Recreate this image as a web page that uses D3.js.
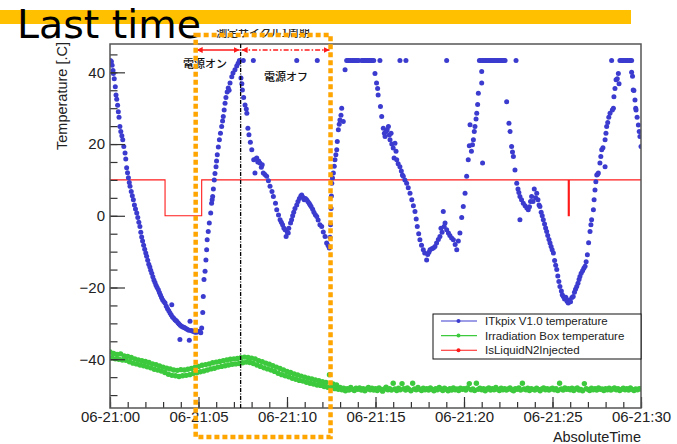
<!DOCTYPE html>
<html>
<head>
<meta charset="utf-8">
<script src="https://cdn.jsdelivr.net/npm/d3@7"></script>
<style>
  body { margin: 0; background: #fff; }
  svg { display: block; }
</style>
</head>
<body>
<svg id="chart" width="677" height="444"></svg>
<script>
// ---- data ----------------------------------------------------------------
// time in minutes after 06-21:00, temperature in degrees C
const itkpixPoints = [
  [0.02,43.3],[0.08,43.0],[0.12,42.0],[0.17,40.5],[0.19,39.7],[0.24,38.2],[0.30,36.0],[0.34,33.7],[0.38,32.5],[0.43,30.8],
  [0.47,29.0],[0.51,27.5],[0.56,24.9],[0.61,23.5],[0.67,22.3],[0.72,21.2],[0.78,19.3],[0.85,17.5],[0.89,15.8],[0.94,13.4],
  [0.99,12.0],[1.04,10.6],[1.09,9.3],[1.13,8.2],[1.20,6.8],[1.26,5.6],[1.32,4.5],[1.38,3.0],[1.44,1.9],[1.51,0.8],
  [1.57,-0.5],[1.63,-1.8],[1.69,-3.0],[1.74,-4.6],[1.79,-5.9],[1.84,-7.0],[1.90,-8.2],[1.96,-9.3],[2.02,-10.4],[2.07,-11.3],
  [2.13,-12.4],[2.19,-13.5],[2.25,-14.3],[2.30,-15.2],[2.36,-16.0],[2.42,-17.0],[2.48,-17.9],[2.54,-18.6],[2.60,-19.4],[2.66,-20.0],
  [2.73,-20.6],[2.79,-21.4],[2.85,-22.1],[2.91,-22.8],[2.97,-23.4],[3.04,-23.9],[3.11,-24.3],[3.18,-25.2],[3.25,-25.9],[3.32,-26.5],
  [3.39,-27.1],[3.46,-27.7],[3.49,-24.8],[3.53,-28.2],[3.60,-28.6],[3.67,-29.0],[3.72,-29.2],[3.77,-29.4],[3.84,-29.8],[3.90,-30.2],
  [3.95,-34.5],[3.97,-30.5],[4.04,-30.8],[4.11,-31.0],[4.17,-31.1],[4.24,-31.3],[4.31,-31.5],[4.38,-31.7],[4.45,-31.9],[4.48,-34.7],
  [4.52,-29.4],[4.58,-32.0],[4.65,-32.1],[4.71,-32.2],[4.78,-32.4],[4.85,-32.5],[4.92,-32.4],[5.00,-32.3],[5.08,-32.2],[5.13,-32.6],
  [5.18,-31.3],[5.24,-27.0],[5.27,-22.5],[5.31,-17.8],[5.37,-15.5],[5.42,-12.3],[5.46,-9.5],[5.49,-6.7],[5.55,-4.4],[5.61,-2.0],
  [5.69,0.8],[5.74,3.5],[5.77,4.5],[5.80,5.4],[5.84,7.5],[5.89,10.0],[5.93,11.8],[5.99,13.7],[6.02,15.3],[6.06,17.0],
  [6.12,19.2],[6.18,21.2],[6.24,23.0],[6.31,24.9],[6.36,26.4],[6.40,27.7],[6.45,29.5],[6.50,31.4],[6.55,33.0],[6.62,34.5],
  [6.68,35.6],[6.73,35.0],[6.78,37.0],[6.88,38.8],[6.95,39.8],[7.06,40.7],[7.16,41.8],[7.24,42.5],[7.31,43.3],
  [7.40,38.4],[7.45,36.8],[7.48,35.1],[7.53,43.3],[7.55,33.0],[7.63,30.9],[7.70,29.8],[7.73,28.6],[7.79,24.4],[7.85,22.6],
  [7.93,20.5],[8.01,18.4],[8.10,43.3],[8.12,15.6],[8.19,11.9],[8.24,15.8],[8.29,16.1],[8.35,15.0],[8.40,15.3],[8.47,14.7],
  [8.55,13.5],[8.60,14.2],[8.66,11.9],[8.75,11.5],[8.85,11.0],[8.95,9.8],[9.04,8.2],[9.15,6.8],[9.23,5.4],[9.35,3.5],
  [9.42,1.7],[9.52,0.2],[9.61,-1.1],[9.68,-1.8],[9.75,-2.5],[9.82,-3.4],[9.89,-3.9],[9.95,-5.8],[10.02,-4.6],[10.07,-4.8],
  [10.10,-3.5],[10.20,-2.0],[10.26,-1.1],[10.32,0.0],[10.38,1.0],[10.45,2.0],[10.55,3.0],[10.55,43.3],[10.62,4.0],[10.70,4.8],
  [10.78,5.5],[10.83,5.8],[10.90,5.2],[10.97,4.5],[11.04,4.8],[11.11,4.5],[11.18,4.0],[11.25,3.5],[11.30,3.1],[11.36,2.6],
  [11.45,1.8],[11.52,1.0],[11.60,0.3],[11.68,-0.2],[11.71,43.3],[11.76,-1.2],[11.86,-2.5],[11.96,-3.0],[12.05,-4.5],[12.15,-5.8],
  [12.24,-7.6],[12.32,-8.3],[12.39,-9.0],[12.43,-6.0],[12.46,-2.5],[12.49,2.0],[12.51,5.5],[12.53,9.1],[12.57,10.5],[12.62,11.9],
  [12.67,13.8],[12.71,15.6],[12.76,17.0],[12.81,18.4],[12.84,20.7],[12.90,24.0],[12.95,25.5],[12.99,26.7],[13.05,28.0],[13.09,30.0],
  [13.18,26.3],[13.28,40.7],[13.37,43.3],[13.45,43.3],[13.52,43.3],[13.60,43.3],[13.68,43.3],[13.75,43.3],[13.83,43.3],[13.90,43.3],
  [13.98,43.3],[14.05,43.3],[14.22,43.3],[14.30,43.3],[14.37,43.3],[14.45,43.3],[14.52,43.3],[14.60,43.3],[14.67,43.3],[14.75,43.3],
  [14.82,43.3],[14.90,43.3],[14.97,39.7],[15.06,37.0],[15.12,35.5],[15.15,33.7],[15.25,43.3],[15.28,30.5],[15.35,27.7],[15.44,24.4],
  [15.50,23.0],[15.54,22.1],[15.60,23.5],[15.66,24.0],[15.73,24.9],[15.78,22.5],[15.82,21.2],[15.88,23.0],[15.92,20.0],[16.00,18.9],
  [16.05,16.1],[16.10,20.2],[16.16,18.0],[16.20,15.6],[16.28,14.5],[16.38,13.7],[16.38,43.3],[16.46,12.5],[16.52,11.4],[16.57,11.0],
  [16.66,10.0],[16.72,43.3],[16.76,9.1],[16.85,7.8],[16.95,6.3],[17.05,4.5],[17.14,2.8],[17.23,1.2],[17.30,-0.9],[17.36,-3.0],
  [17.44,-5.0],[17.51,-6.7],[17.60,-8.2],[17.70,-9.5],[17.78,-10.4],[17.89,-12.3],[17.95,-10.8],[18.02,-10.2],[18.08,-9.5],[18.18,-9.2],
  [18.27,-9.0],[18.36,-8.6],[18.45,-7.6],[18.55,-6.6],[18.64,-5.8],[18.70,-3.5],[18.76,-4.6],[18.83,1.2],[18.88,-3.0],[18.93,-2.0],
  [19.02,43.3],[19.02,-3.9],[19.12,-4.8],[19.20,-5.5],[19.30,-6.2],[19.40,-6.7],[19.50,-8.0],[19.59,-9.5],[19.68,-7.0],[19.77,-4.8],
  [19.87,-0.5],[19.96,2.6],[20.06,6.3],[20.15,11.0],[20.24,15.6],[20.30,19.5],[20.34,25.4],[20.42,18.0],[20.48,19.8],[20.53,21.2],
  [20.58,23.5],[20.62,24.9],[20.68,27.0],[20.72,28.6],[20.77,31.0],[20.81,34.2],[20.87,43.3],[20.95,43.3],[21.00,37.0],[21.00,40.2],
  [21.05,14.7],[21.05,43.3],[21.12,43.3],[21.20,43.3],[21.28,43.3],[21.35,43.3],[21.43,43.3],[21.50,43.3],[21.58,43.3],[21.65,43.3],
  [21.73,43.3],[21.80,43.3],[21.88,43.3],[21.95,43.3],[22.03,43.3],[22.10,43.3],[22.18,43.3],[22.25,43.3],[22.32,43.3],[22.41,31.8],
  [22.54,25.8],[22.60,23.5],[22.69,19.3],[22.74,17.8],[22.79,16.5],[22.88,12.8],[22.94,43.3],[22.98,9.1],[23.05,7.5],[23.10,6.5],
  [23.16,5.4],[23.16,-1.1],[23.25,4.5],[23.35,3.5],[23.45,2.8],[23.55,2.2],[23.63,1.7],[23.70,2.5],[23.76,4.0],[23.82,5.4],
  [23.90,4.0],[23.97,7.5],[24.05,5.0],[24.11,6.3],[24.18,4.5],[24.24,3.0],[24.29,2.6],[24.36,1.0],[24.42,0.0],[24.48,-1.1],
  [24.55,-2.3],[24.61,-3.4],[24.67,-4.4],[24.73,-5.5],[24.80,-6.6],[24.86,-7.6],[24.92,-8.6],[24.98,-9.5],[25.05,-10.4],[25.12,-12.5],
  [25.18,-13.8],[25.24,-15.0],[25.30,-16.8],[25.36,-18.3],[25.42,-19.7],[25.50,-21.0],[25.55,-22.0],[25.61,-22.5],[25.68,-23.2],[25.75,-22.7],
  [25.82,-23.8],[25.89,-24.3],[25.95,-23.5],[26.02,-24.0],[26.10,-22.8],[26.17,-22.5],[26.24,-21.3],[26.30,-20.5],[26.37,-19.7],[26.44,-18.8],
  [26.50,-17.8],[26.55,-16.9],[26.62,-16.0],[26.70,-15.3],[26.77,-14.6],[26.84,-14.1],[26.90,-12.8],[26.97,-10.9],[27.04,-7.5],[27.12,-4.4],
  [27.17,-2.5],[27.21,-1.1],[27.31,1.7],[27.35,4.5],[27.40,7.2],[27.45,9.5],[27.50,11.4],[27.55,11.6],[27.59,11.9],[27.68,14.7],
  [27.73,16.5],[27.78,18.4],[27.85,19.0],[27.97,13.7],[27.97,21.2],[28.02,23.0],[28.06,24.9],[28.12,26.0],[28.18,27.5],[28.25,28.6],
  [28.34,43.3],[28.38,29.5],[28.44,30.0],[28.47,33.2],[28.53,35.5],[28.59,37.9],[28.66,38.2],[28.72,39.7],[28.76,36.8],[28.81,43.3],
  [28.88,43.3],[28.95,43.3],[29.02,43.3],[29.10,43.3],[29.18,43.3],[29.25,43.3],[29.33,43.3],[29.40,43.3],[29.47,43.3],[29.47,40.0],
  [29.52,38.9],[29.56,35.1],[29.60,34.9],[29.66,32.3],[29.70,30.0],[29.72,29.5],[29.78,27.5],[29.85,25.3],[29.90,23.5],[29.94,22.1],
  [30.00,19.3]
];

// irradiation box temperature, logged every 0.1 min starting at 06-21:00
const boxStart = 0;
const boxStep = 0.1;
const boxTemps = [
  -38.0,-39.6,-38.4,-39.9,-38.7,-40.0,-38.5,-40.2,-39.1,-40.3,
  -39.2,-40.7,-39.5,-41.1,-39.9,-41.3,-40.2,-41.6,-40.4,-41.8,
  -40.6,-42.1,-40.9,-42.4,-41.3,-42.8,-41.5,-43.0,-41.9,-43.3,
  -42.2,-43.7,-42.5,-44.2,-42.7,-44.5,-43.0,-44.6,-43.1,-44.8,
  -42.9,-44.6,-43.0,-44.5,-42.8,-44.3,-42.6,-44.0,-42.3,-43.8,
  -42.0,-43.5,-41.7,-43.3,-41.5,-43.0,-41.3,-42.7,-41.0,-42.5,
  -40.8,-42.2,-40.6,-42.0,-40.4,-41.8,-40.2,-41.6,-40.0,-41.4,
  -39.9,-41.3,-39.8,-41.2,-39.6,-41.0,-39.4,-40.8,-39.5,-40.9,
  -39.7,-41.2,-39.9,-41.6,-40.4,-42.0,-40.7,-42.4,-41.1,-42.7,
  -41.4,-43.0,-41.8,-43.4,-42.2,-43.9,-42.6,-44.3,-43.0,-44.6,
  -43.4,-44.9,-43.7,-45.3,-44.1,-45.6,-44.4,-45.9,-44.7,-46.1,
  -45.0,-46.4,-45.3,-46.7,-45.5,-46.9,-45.8,-47.2,-46.0,-47.3,
  -46.3,-47.6,-46.5,-47.8,-44.3,-47.9,-46.9,-48.2,-47.2,-48.4,
  -47.9,-48.5,-48.1,-48.8,-48.2,-48.6,-47.9,-48.4,-48.7,-48.1,
  -48.4,-48.0,-48.6,-48.2,-48.8,-48.3,-47.9,-48.5,-48.1,-48.6,
  -48.2,-48.7,-48.0,-48.4,-48.9,-48.3,-47.8,-48.5,-48.2,-48.6,
  -46.7,-48.3,-48.7,-48.1,-48.5,-46.8,-48.2,-48.6,-48.0,-48.4,
  -48.8,-46.7,-48.3,-48.5,-47.9,-48.4,-48.7,-48.1,-48.5,-48.2,
  -48.6,-48.0,-48.4,-48.8,-48.2,-48.5,-47.9,-48.3,-48.7,-48.1,
  -48.4,-48.8,-48.2,-48.6,-48.0,-48.5,-48.3,-48.7,-48.1,-48.4,
  -48.2,-48.6,-48.0,-46.8,-48.5,-48.3,-48.7,-46.7,-48.4,-48.1,
  -48.5,-48.2,-48.8,-48.3,-48.0,-48.6,-48.2,-48.5,-47.9,-48.4,
  -48.7,-48.1,-48.5,-48.2,-48.6,-48.3,-48.0,-48.5,-48.8,-48.2,
  -48.4,-48.0,-48.6,-46.7,-48.3,-48.5,-48.1,-48.7,-48.2,-48.4,
  -48.6,-48.1,-48.4,-48.8,-48.3,-48.0,-48.5,-48.2,-48.6,-48.3,
  -48.1,-48.5,-48.2,-48.7,-46.7,-48.3,-48.6,-48.0,-48.4,-48.2,
  -48.5,-48.1,-48.7,-48.3,-48.0,-48.6,-48.4,-48.8,-46.8,-48.2,
  -48.4,-48.7,-48.1,-48.5,-48.2,-48.6,-48.0,-48.4,-48.3,-48.7,
  -48.2,-48.5,-48.1,-48.6,-48.3,-48.0,-48.5,-48.2,-48.7,-48.4,
  -48.1,-48.5,-48.2,-48.6,-48.0,-48.4,-48.7,-48.3,-48.5,-48.2,
  -48.3
];

// liquid N2 injection flag (drawn at 10 = idle, 0 = injecting), step-after
const n2Times  = [0, 3.11, 5.18, 25.89, 25.95, 30];
const n2Values = [10, 0, 10, 0, 10, 10];

const xTickValues = [0, 5, 10, 15, 20, 25, 30];
const xTickLabels = ["06-21:00", "06-21:05", "06-21:10", "06-21:15", "06-21:20", "06-21:25", "06-21:30"];
const yTickValues = [-40, -20, 0, 20, 40];

const seriesNames = ["ITkpix V1.0 temperature", "Irradiation Box temperature", "IsLiquidN2Injected"];

// cycle annotation (minutes)
const cycleStart = 4.84;
const powerOffAt = 7.38;
const cycleEnd = 12.46;

// ---- drawing -------------------------------------------------------------
const svg = d3.select("#chart");
const W = 677, H = 444;
const frame = { left: 110, right: 641, top: 44, bottom: 408 };

const x = d3.scaleLinear().domain([0, 30]).range([frame.left, frame.right]);
const y = d3.scaleLinear().domain([-53.6, 47.9]).range([frame.bottom, frame.top]);

const colors = { blue: "#3b3bcf", green: "#3dc93d", red: "#ff1a1a", orange: "#ffa500", bar: "#ffc000" };
const sansFont = "'Liberation Sans', Arial, Helvetica, sans-serif";

svg.append("rect").attr("width", W).attr("height", H).attr("fill", "#fff");

// slide header bar + heading
svg.append("rect").attr("x", 0).attr("y", 10).attr("width", 631).attr("height", 14).attr("fill", colors.bar);
svg.append("text")
  .attr("x", 17).attr("y", 37.5)
  .attr("font-family", "'DejaVu Sans', sans-serif")
  .attr("font-size", 39.5)
  .attr("fill", "#000")
  .text("Last time");

// clip to the plot frame
svg.append("clipPath").attr("id", "plotClip")
  .append("rect").attr("x", frame.left).attr("y", frame.top)
  .attr("width", frame.right - frame.left).attr("height", frame.bottom - frame.top);

const plot = svg.append("g").attr("clip-path", "url(#plotClip)");

// N2 flag
const n2Line = d3.line().x(d => x(d[0])).y(d => y(d[1])).curve(d3.curveStepAfter);
plot.append("path")
  .attr("d", n2Line(n2Times.map((t, i) => [t, n2Values[i]])))
  .attr("fill", "none").attr("stroke", colors.red).attr("stroke-width", 1.1);

// irradiation box temperature
plot.append("g").selectAll("circle")
  .data(boxTemps)
  .join("circle")
  .attr("cx", (d, i) => x(boxStart + i * boxStep))
  .attr("cy", d => y(d))
  .attr("r", 2.7)
  .attr("fill", colors.green);

// ITkpix temperature
plot.append("g").selectAll("circle")
  .data(itkpixPoints)
  .join("circle")
  .attr("cx", d => x(d[0]))
  .attr("cy", d => y(d[1]))
  .attr("r", 2.5)
  .attr("fill", colors.blue);

// axes (ROOT style: ticks point into the frame)
const axisColor = "#333";
const tickFont = 15;

const yMinor = svg.append("g").attr("transform", `translate(${frame.left},0)`)
  .call(d3.axisLeft(y).tickValues(d3.range(-50, 46, 5)).tickSize(-7.5).tickFormat(""));
const yMajor = svg.append("g").attr("transform", `translate(${frame.left},0)`)
  .call(d3.axisLeft(y).tickValues(yTickValues).tickSize(-15).tickPadding(5));
const xMinor = svg.append("g").attr("transform", `translate(0,${frame.bottom})`)
  .call(d3.axisBottom(x).tickValues(d3.range(0, 31, 1)).tickSize(-6).tickFormat(""));
const xMajor = svg.append("g").attr("transform", `translate(0,${frame.bottom})`)
  .call(d3.axisBottom(x).tickValues(xTickValues).tickSize(-11).tickPadding(3)
    .tickFormat((d, i) => xTickLabels[i]));

[yMinor, yMajor, xMinor, xMajor].forEach(g => {
  g.select(".domain").remove();
  g.selectAll(".tick line").attr("stroke", axisColor).attr("stroke-width", 1.2);
  g.selectAll("text").attr("font-family", sansFont).attr("font-size", tickFont).attr("fill", "#222");
});

// frame
svg.append("rect")
  .attr("x", frame.left).attr("y", frame.top)
  .attr("width", frame.right - frame.left).attr("height", frame.bottom - frame.top)
  .attr("fill", "none").attr("stroke", "#555").attr("stroke-width", 1.5);

// axis titles
svg.append("text")
  .attr("transform", `translate(67,${frame.top - 2}) rotate(-90)`)
  .attr("text-anchor", "end")
  .attr("font-family", sansFont).attr("font-size", 14.5).attr("fill", "#222")
  .text("Temperature [.C]");
svg.append("text")
  .attr("x", frame.right).attr("y", 442)
  .attr("text-anchor", "end")
  .attr("font-family", sansFont).attr("font-size", 14.5).attr("fill", "#222")
  .text("AbsoluteTime");

// legend
const legend = svg.append("g");
legend.append("rect")
  .attr("x", 433).attr("y", 314).attr("width", 208).attr("height", 45)
  .attr("fill", "#fff").attr("stroke", "#111").attr("stroke-width", 1);
const legendColors = [colors.blue, colors.green, colors.red];
seriesNames.forEach((name, i) => {
  const ly = 321 + i * 14.6;
  legend.append("line").attr("x1", 441).attr("x2", 477).attr("y1", ly).attr("y2", ly)
    .attr("stroke", legendColors[i]).attr("stroke-width", 1.1);
  legend.append("circle").attr("cx", 458.5).attr("cy", ly).attr("r", 2)
    .attr("fill", legendColors[i]);
  legend.append("text").attr("x", 485).attr("y", ly).attr("dy", "0.35em")
    .attr("font-family", sansFont).attr("font-size", 11.5).attr("fill", "#222")
    .text(name);
});

// power-off marker
svg.append("line")
  .attr("x1", x(powerOffAt)).attr("x2", x(powerOffAt))
  .attr("y1", frame.top).attr("y2", frame.bottom)
  .attr("stroke", "#000").attr("stroke-width", 1.3)
  .attr("stroke-dasharray", "4,1.5,1,1.5");

// arrows
const defs = svg.append("defs");
function marker(id, orient) {
  defs.append("marker").attr("id", id)
    .attr("viewBox", "0 0 10 10").attr("refX", 10).attr("refY", 5)
    .attr("markerWidth", 6).attr("markerHeight", 6)
    .attr("markerUnits", "userSpaceOnUse")
    .attr("orient", orient)
    .append("path").attr("d", "M0,0 L10,5 L0,10 Z").attr("fill", colors.red);
}
marker("arrowEnd", "auto");
marker("arrowStart", "auto-start-reverse");
const arrowY = 50;
svg.append("line")
  .attr("x1", x(cycleStart) + 1).attr("x2", x(powerOffAt) - 1)
  .attr("y1", arrowY).attr("y2", arrowY)
  .attr("stroke", colors.red).attr("stroke-width", 1.5)
  .attr("marker-start", "url(#arrowStart)").attr("marker-end", "url(#arrowEnd)");
svg.append("line")
  .attr("x1", x(powerOffAt) + 1).attr("x2", x(cycleEnd) - 1)
  .attr("y1", arrowY).attr("y2", arrowY)
  .attr("stroke", colors.red).attr("stroke-width", 1.5)
  .attr("stroke-dasharray", "5,2,1.5,2")
  .attr("marker-start", "url(#arrowStart)").attr("marker-end", "url(#arrowEnd)");

// labels
const jpFont = "'Noto Sans CJK JP', sans-serif";
svg.append("text").attr("x", 205).attr("y", 64).attr("dy", "0.35em")
  .attr("text-anchor", "middle").attr("font-family", jpFont).attr("font-size", 11)
  .attr("font-weight", 500).attr("fill", "#111").text("電源オン");
svg.append("text").attr("x", 286).attr("y", 77).attr("dy", "0.35em")
  .attr("text-anchor", "middle").attr("font-family", jpFont).attr("font-size", 11)
  .attr("font-weight", 500).attr("fill", "#111").text("電源オフ");

svg.append("clipPath").attr("id", "capClip")
  .append("rect").attr("x", 150).attr("y", 29).attr("width", 250).attr("height", 20);
svg.append("text").attr("x", 263).attr("y", 33).attr("dy", "0.35em")
  .attr("clip-path", "url(#capClip)")
  .attr("text-anchor", "middle").attr("font-family", jpFont).attr("font-size", 11)
  .attr("font-weight", 500).attr("fill", "#222").text("測定サイクル1周期");

// one-cycle box
svg.append("rect")
  .attr("x", x(cycleStart)).attr("y", 35)
  .attr("width", x(cycleEnd) - x(cycleStart)).attr("height", 437 - 35)
  .attr("fill", "none").attr("stroke", colors.orange).attr("stroke-width", 4.5)
  .attr("stroke-dasharray", "5,3");
</script>
</body>
</html>
